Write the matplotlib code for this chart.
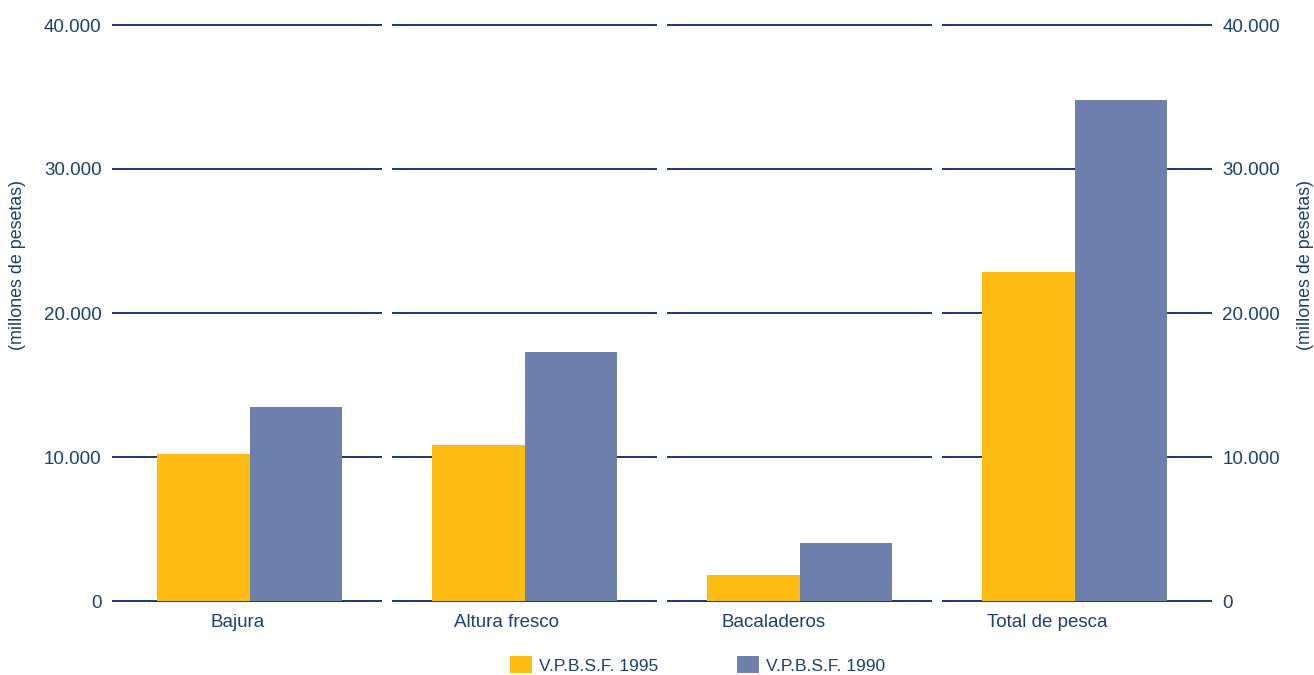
import matplotlib
matplotlib.use("Agg")
import matplotlib.pyplot as plt
from matplotlib.patches import Patch
import numpy as np

plt.rcParams['font.family'] = ['Liberation Sans', 'DejaVu Sans']

categories = ["Bajura", "Altura fresco", "Bacaladeros", "Total de pesca"]
series_names = ["V.P.B.S.F. 1995", "V.P.B.S.F. 1990"]
v1995 = [10200, 10800, 1800, 22850]
v1990 = [13500, 17300, 4000, 34800]
yticks = [0, 10000, 20000, 30000, 40000]
ytick_labels = ["0", "10.000", "20.000", "30.000", "40.000"]

c_yellow = "#FDBC13"
c_blue = "#6E7FAC"
c_text = "#1D3F78"
c_grid = "#12397A"

fig = plt.figure(figsize=(13.14, 6.75), dpi=100)
ax = fig.add_axes([112/1314, 1-601/675, (1212-112)/1314, (601-25)/675])

x = np.arange(len(categories))
w = 0.335
ax.bar(x - w/2, v1995, width=w, color=c_yellow, zorder=3)
ax.bar(x + w/2, v1990, width=w, color=c_blue, zorder=3)

ax.set_xlim(-0.5, len(categories) - 0.5)
ax.set_ylim(0, 40000)

seg = 0.482
for yv in yticks:
    for xi in x:
        x0 = -0.5 if xi == 0 else xi - seg
        x1 = len(categories) - 0.5 if xi == len(categories) - 1 else xi + seg
        ax.plot([x0, x1], [yv, yv], color=c_grid, lw=1.4, zorder=2,
                solid_capstyle='butt', clip_on=False)

for s in ax.spines.values():
    s.set_visible(False)
ax.set_xticks([])
ax.set_yticks(yticks)
ax.set_yticklabels(ytick_labels)
ax.tick_params(axis='y', length=0, pad=7.5, labelsize=13.5,
               labelright=True, right=False)
for lbl in ax.get_yticklabels(which='both'):
    lbl.set_color(c_text)
for t in ax.yaxis.get_ticklabels(which='both'):
    t.set_color(c_text)
ax.tick_params(axis='y', labelcolor=c_text)

label_shift = [-0.042, -0.064, -0.093, -0.10]
for xi, cat, sh in zip(x, categories, label_shift):
    ax.text(xi + sh, -1480, cat, ha='center', va='center', fontsize=13.5,
            color=c_text)

fig.text(18/1314, 1-265/675, "(millones de pesetas)", rotation=90, ha='center',
         va='center', fontsize=12.9, color=c_text)
fig.text(1305/1314, 1-265/675, "(millones de pesetas)", rotation=90, ha='center',
         va='center', fontsize=12.9, color=c_text)

handles = [Patch(facecolor=c_yellow, edgecolor='none'),
           Patch(facecolor=c_blue, edgecolor='none')]
leg = fig.legend(handles, series_names, loc='center', ncol=2, frameon=False,
                 bbox_to_anchor=(697.5/1314, 1-665/675), fontsize=12.5,
                 handlelength=1.27, handleheight=1.15, handletextpad=0.4,
                 columnspacing=4.5)
for t in leg.get_texts():
    t.set_color(c_text)

fig.savefig("out.png", dpi=100)
